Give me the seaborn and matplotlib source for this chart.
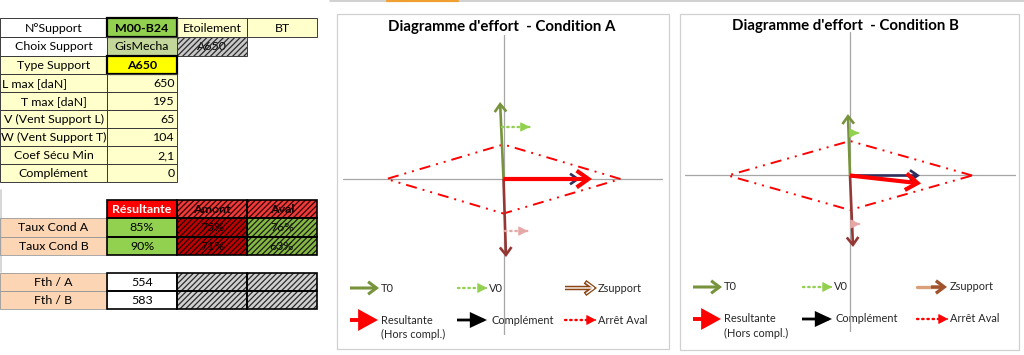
import matplotlib
matplotlib.use("Agg")
import matplotlib.pyplot as plt
import seaborn as sns
from matplotlib.patches import Rectangle

sns.set_theme(style="white")
plt.rcParams['font.family'] = ['Lato', 'DejaVu Sans']
plt.rcParams['hatch.linewidth'] = 0.9

# ---------------- data ----------------
head_labels = ["N°Support", "Choix Support", "Type Support"]
support_id = "M00-B24"
support_extra = ["Etoilement", "BT"]
support_choice = "GisMecha"
support_choice_alt = "A650"
support_type = "A650"
param_labels = ["L max [daN]", "T max [daN]", "V (Vent Support L)",
                "W (Vent Support T)", "Coef Sécu Min", "Complément"]
param_values = ["650", "195", "65", "104", "2,1", "0"]
taux_headers = ["Résultante", "Amont", "Aval"]
taux_labels = ["Taux Cond A", "Taux Cond B"]
taux_resultante = ["85%", "90%"]
taux_amont = ["75%", "71%"]
taux_aval = ["76%", "63%"]
fth_labels = ["Fth / A", "Fth / B"]
fth_values = ["554", "583"]

L_max = 650
T_max = 195
diamond_x = [L_max, 0, -L_max, 0, L_max]
diamond_y = [0, T_max, 0, -T_max, 0]

vec_names = ["T0", "V0", "Zsupport", "W0", "Complément", "Resultante"]
condA_x0 = [0, -8, 0, 8, 0, 0]
condA_y0 = [0, 294, 0, -294, 0, 0]
condA_x1 = [-19, 147, 14, 136, 425, 492]
condA_y1 = [435, 294, -441, -294, 0, 0]
condB_x0 = [0, 5, 0, 11, 0, 0]
condB_y0 = [0, 240, 0, -274, 0, 0]
condB_x1 = [-11, 48, 16, 53, 372, 378]
condB_y1 = [347, 240, -404, -274, 0, -45]

titles = ["Diagramme d'effort  - Condition A", "Diagramme d'effort  - Condition B"]

# ---------------- figure ----------------
fig = plt.figure(figsize=(10.24, 3.55), dpi=100)
fig.patch.set_facecolor("white")
ov = fig.add_axes([0, 0, 1, 1])
ov.set_xlim(0, 1024)
ov.set_ylim(355, 0)
ov.set_axis_off()

FS = 8.9
cols = [0, 107, 177, 247, 317]


def cell(c0, c1, y0, y1, text="", fc="white", ha="center", bold=False,
         color="black", lw=0.7, ec="#3a3a3a", hatch_c=None, left_pad=2):
    x0, x1 = cols[c0], cols[c1]
    ov.add_patch(Rectangle((x0, y0), x1 - x0, y1 - y0, facecolor=fc,
                           edgecolor="none", zorder=1))
    if text:
        if ha == "center":
            tx = (x0 + x1) / 2
        elif ha == "right":
            tx = x1 - 2.5
        else:
            tx = x0 + left_pad
        ov.text(tx, (y0 + y1) / 2 + 0.5, text, ha=ha, va="center",
                fontsize=FS, fontweight="bold" if bold else "normal",
                color=color, zorder=2)
    if hatch_c is not None:
        ov.add_patch(Rectangle((x0, y0), x1 - x0, y1 - y0, facecolor="none",
                               edgecolor=hatch_c, hatch="//////", lw=0,
                               zorder=3))
    ov.add_patch(Rectangle((x0, y0), x1 - x0, y1 - y0, facecolor="none",
                           edgecolor=ec, lw=lw, zorder=4))


rows1 = [18, 37, 55.5, 74, 92, 110, 128, 146, 164, 182]
PALE = "#FFFFCC"
cell(0, 1, rows1[0], rows1[1], head_labels[0], "white")
cell(1, 2, rows1[0], rows1[1], support_id, "#92D050", bold=True, lw=1.6, ec="black")
cell(2, 3, rows1[0], rows1[1], support_extra[0], PALE)
cell(3, 4, rows1[0], rows1[1], support_extra[1], PALE)
cell(0, 1, rows1[1], rows1[2], head_labels[1], "white")
cell(1, 2, rows1[1], rows1[2], support_choice, "#C4D79B")
cell(2, 3, rows1[1], rows1[2], support_choice_alt, "#C8C8C8", hatch_c="#2a2a2a")
cell(0, 1, rows1[2], rows1[3], head_labels[2], PALE)
cell(1, 2, rows1[2], rows1[3], support_type, "#FFFF00", bold=True, lw=1.6, ec="black")
for i, (lab, val) in enumerate(zip(param_labels, param_values)):
    cell(0, 1, rows1[3 + i], rows1[4 + i], lab, PALE,
         ha="left" if i == 0 else "center")
    cell(1, 2, rows1[3 + i], rows1[4 + i], val, PALE, ha="right")

# table 2
rows2 = [199.5, 218.3, 236.5, 254.5]
PEACH = "#FCD5B4"
cell(1, 2, rows2[0], rows2[1], taux_headers[0], "#FF0000", bold=True,
     color="white", lw=1.2, ec="black")
cell(2, 3, rows2[0], rows2[1], taux_headers[1], "#F03A3A", bold=True,
     lw=1.2, ec="black", hatch_c="#300000")
cell(3, 4, rows2[0], rows2[1], taux_headers[2], "#F03A3A", bold=True,
     lw=1.2, ec="black", hatch_c="#300000")
for i in range(2):
    cell(0, 1, rows2[1 + i], rows2[2 + i], taux_labels[i], PEACH, lw=0.6, ec="#9a9a9a")
    cell(1, 2, rows2[1 + i], rows2[2 + i], taux_resultante[i], "#92D050", lw=1.2, ec="black")
    cell(2, 3, rows2[1 + i], rows2[2 + i], taux_amont[i], "#C00000", lw=1.2,
         ec="black", hatch_c="#1a0000")
    cell(3, 4, rows2[1 + i], rows2[2 + i], taux_aval[i], "#84B840", lw=1.2,
         ec="black", hatch_c="#1a1a1a")

# table 3
rows3 = [272.7, 290.7, 309]
for i in range(2):
    cell(0, 1, rows3[i], rows3[i + 1], fth_labels[i], PEACH, lw=0.6, ec="#9a9a9a")
    cell(1, 2, rows3[i], rows3[i + 1], fth_values[i], "white", lw=1.2, ec="black")
    cell(2, 3, rows3[i], rows3[i + 1], "", "#D0D0D0", lw=1.2, ec="black",
         hatch_c="#2a2a2a")
    cell(3, 4, rows3[i], rows3[i + 1], "", "#D0D0D0", lw=1.2, ec="black",
         hatch_c="#2a2a2a")

# decorations
ov.plot([330, 1024], [0.8, 0.8], color="#C8C8C8", lw=1.2)
ov.plot([387, 458], [0.8, 0.8], color="#F0A030", lw=1.6)
ov.plot([1, 1], [190, 272], color="#D0D0D0", lw=1.2)

# chart frames and titles
frames = [(337, 669, 14, 349), (680, 1019, 14, 350)]
title_pos = [(502, 27), (845, 26)]
for (x0, x1, y0, y1), t, (tx, ty) in zip(frames, titles, title_pos):
    ov.add_patch(Rectangle((x0, y0), x1 - x0, y1 - y0, facecolor="white",
                           edgecolor="#D0D0D0", lw=0.9, zorder=0.5))
    ov.text(tx, ty, t, ha="center", va="center", fontsize=10.8,
            fontweight="bold", color="black", zorder=2)


def arrow(ax, x0, y0, x1, y1, color, lw, style="->", hl=0.5, hw=0.35,
          ls="-", z=3, cap="butt"):
    if ls != "-":
        # dotted shaft + solid filled head
        ax.plot([x0, x1], [y0, y1], color=color, lw=lw, linestyle=ls,
                dash_capstyle="round", zorder=z, clip_on=False)
        ex, ey = x1 - (x1 - x0) * 0.02, y1 - (y1 - y0) * 0.02
        ax.annotate("", xy=(x1, y1), xytext=(ex, ey),
                    arrowprops=dict(arrowstyle=f"{style},head_length={hl},head_width={hw}",
                                    color=color, lw=0.6, shrinkA=0, shrinkB=0,
                                    mutation_scale=10),
                    zorder=z + 0.1, annotation_clip=False)
        return
    ax.annotate("", xy=(x1, y1), xytext=(x0, y0),
                arrowprops=dict(arrowstyle=f"{style},head_length={hl},head_width={hw}",
                                color=color, lw=lw, linestyle=ls, shrinkA=0,
                                shrinkB=0, mutation_scale=10, capstyle=cap,
                                joinstyle="miter"),
                zorder=z, annotation_clip=False)


DOT = (0, (0.6, 1.6))
styles = {
    "T0": dict(color="#77933C", lw=1.9, style="->", hl=0.55, hw=0.42),
    "V0": dict(color="#92D050", lw=1.7, style="-|>", hl=0.6, hw=0.3, ls=DOT),
    "Zsupport": dict(color="#953735", lw=1.9, style="->", hl=0.55, hw=0.42),
    "W0": dict(color="#E6A8A6", lw=1.7, style="-|>", hl=0.6, hw=0.3, ls=DOT),
    "Complément": dict(color="#2E2E5E", lw=1.9, style="->", hl=0.55, hw=0.38),
    "Resultante": dict(color="#FF0000", lw=3.0, style="->", hl=0.85, hw=0.6),
}

# chart axes (pixel boxes and origins -> limits)
boxes = [(343, 663, 35, 335, 503.5, 179.0, 0.180, 0.177),
         (685, 1016, 32, 332, 850.0, 175.5, 0.188, 0.177)]
conds = [(condA_x0, condA_y0, condA_x1, condA_y1),
         (condB_x0, condB_y0, condB_x1, condB_y1)]
for (px0, px1, py0, py1, ox, oy, sx, sy), (X0, Y0, X1, Y1) in zip(boxes, conds):
    ax = fig.add_axes([px0 / 1024, 1 - py1 / 355, (px1 - px0) / 1024, (py1 - py0) / 355])
    ax.set_facecolor("none")
    ax.axhline(0, color="#A6A6A6", lw=0.9, zorder=1)
    ax.axvline(0, color="#A6A6A6", lw=0.9, zorder=1)
    sns.lineplot(x=diamond_x, y=diamond_y, sort=False, estimator=None, ax=ax,
                 color="#FF0000", lw=1.4,
                 linestyle=(0, (5.7, 3.1, 1.0, 3.1, 1.0, 3.1)), zorder=2)
    order = ["Complément", "T0", "Zsupport", "V0", "W0", "Resultante"]
    for name in order:
        k = vec_names.index(name)
        arrow(ax, X0[k], Y0[k], X1[k], Y1[k], z=3, **styles[name])
    ax.set_xlim((px0 - ox) / sx, (px1 - ox) / sx)
    ax.set_ylim(-(py1 - oy) / sy, (oy - py0) / sy)
    ax.set_axis_off()

# legends (in page pixel coordinates)
LFS = 7.9
leg_sets = [
    dict(c1=350, c2=458, c3=565, r1=288, r2=320),
    dict(c1=693, c2=803, c3=917, r1=287, r2=319),
]
for li, L in enumerate(leg_sets):
    c1, c2, c3, r1, r2 = L["c1"], L["c2"], L["c3"], L["r1"], L["r2"]
    # row 1
    arrow(ov, c1, r1, c1 + 29, r1, "#77933C", 2.2, "->", 0.6, 0.45)
    ov.text(c1 + 31, r1, "T0", va="center", fontsize=LFS)
    arrow(ov, c2, r1, c2 + 29, r1, "#92D050", 1.7, "-|>", 0.6, 0.32, ls=DOT)
    ov.text(c2 + 31, r1, "V0", va="center", fontsize=LFS)
    if li == 0:
        arrow(ov, c3, r1, c3 + 32, r1, "#8B4513", 3.2, "->", 0.6, 0.45)
        arrow(ov, c3, r1, c3 + 30, r1, "white", 1.0, "->", 0.55, 0.4)
    else:
        ov.plot([c3, c3 + 22], [r1, r1], color="#D9A07A", lw=2.4, zorder=3)
        arrow(ov, c3 + 14, r1, c3 + 30, r1, "#A0522D", 2.4, "->", 0.6, 0.45)
    ov.text(c3 + 33, r1, "Zsupport", va="center", fontsize=LFS)
    # row 2
    arrow(ov, c1, r2, c1 + 28, r2, "#FF0000", 2.8, "-|>", 1.0, 0.55)
    ov.text(c1 + 31, r2, "Resultante", va="center", fontsize=LFS)
    ov.text(c1 + 31, r2 + 14, "(Hors compl.)", va="center", fontsize=LFS)
    arrow(ov, c2 - 1, r2, c2 + 29, r2, "#000000", 2.0, "-|>", 0.9, 0.42)
    ov.text(c2 + 33, r2, "Complément", va="center", fontsize=LFS)
    arrow(ov, c3, r2, c3 + 31, r2, "#FF0000", 1.7, "-|>", 0.6, 0.32, ls=DOT)
    ov.text(c3 + 33, r2, "Arrêt Aval", va="center", fontsize=LFS)

fig.savefig("out.png", dpi=100, facecolor="white")
